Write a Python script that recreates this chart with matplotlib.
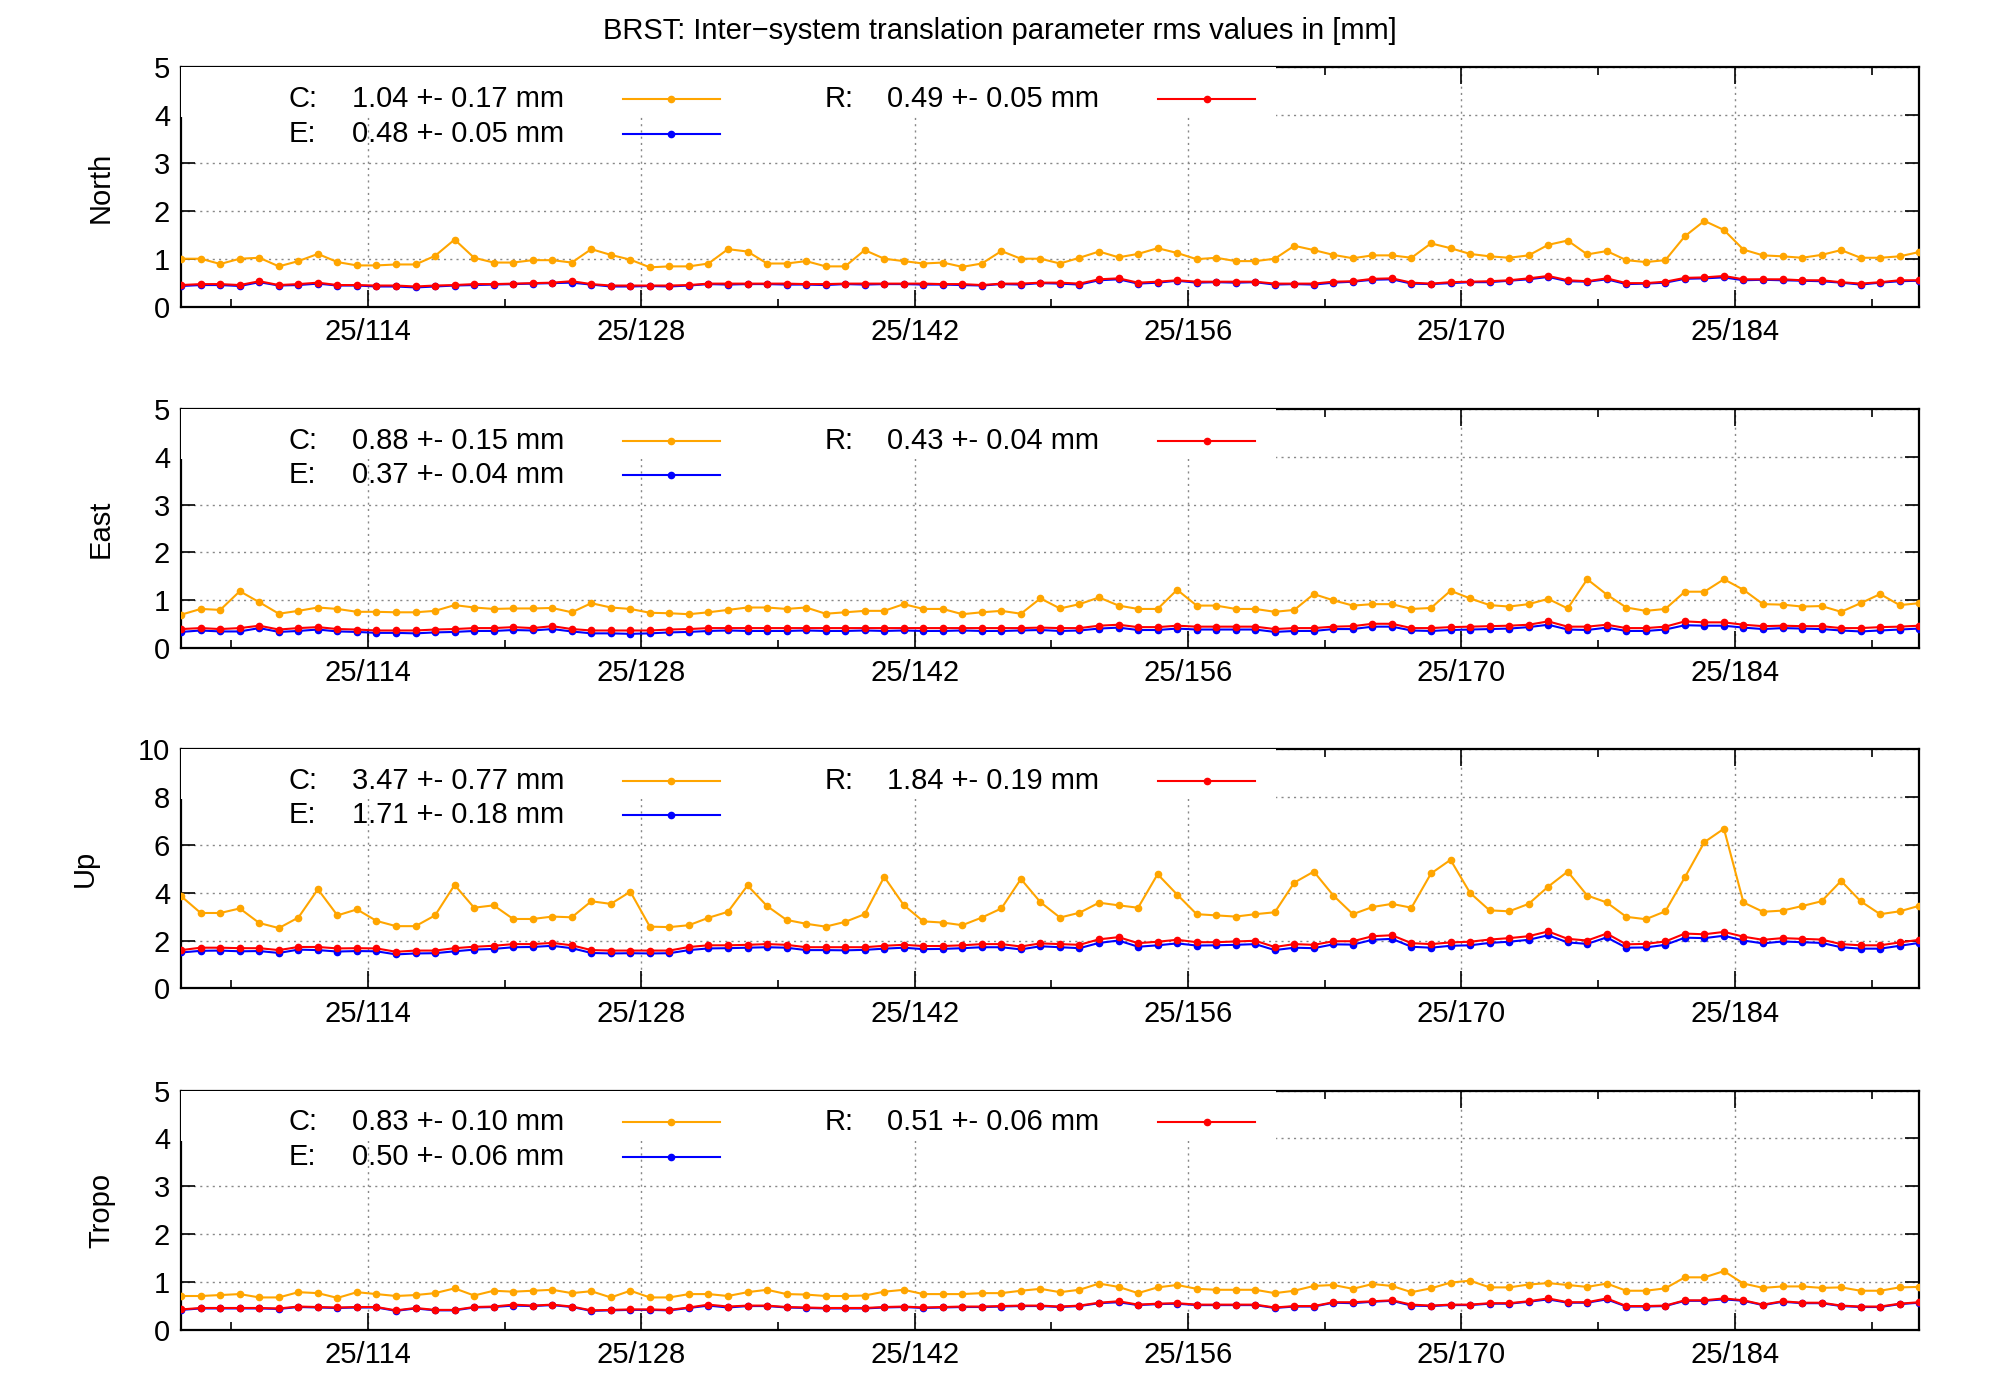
"""BRST inter-system translation parameter rms values (gnuplot-style, 4 panels)."""
import numpy as np
import matplotlib
matplotlib.use('Agg')
import matplotlib.pyplot as plt
from matplotlib.patches import Rectangle

plt.rcParams.update({
    'font.family': 'Liberation Sans',
    'font.size': 21,
    'axes.linewidth': 1.6,
    'xtick.direction': 'in',
    'ytick.direction': 'in',
})

TITLE = 'BRST: Inter\u2212system translation parameter rms values in [mm]'
DAY0 = 104.44          # day-of-year of first sample
X_TICKS = [114, 128, 142, 156, 170, 184]
X_MINOR = [107, 121, 135, 149, 163, 177, 191]

north_c = [1.0, 1.0, 0.89, 1.0, 1.02, 0.84, 0.95, 1.1, 0.93, 0.86, 0.86, 0.88, 0.88, 1.06, 1.4, 1.02,
           0.92, 0.92, 0.97, 0.97, 0.92, 1.2, 1.08, 0.98, 0.82, 0.84, 0.84, 0.9, 1.2, 1.15, 0.9, 0.9,
           0.95, 0.84, 0.84, 1.18, 1.0, 0.95, 0.9, 0.92, 0.83, 0.9, 1.16, 1.0, 1.0, 0.9,
           1.02, 1.15, 1.03, 1.1, 1.22, 1.12, 0.99, 1.02, 0.95, 0.95, 1.0, 1.27, 1.18, 1.08, 1.01,
           1.07, 1.07, 1.02, 1.32, 1.22, 1.1, 1.05, 1.02, 1.07, 1.29, 1.38, 1.09, 1.16, 0.97, 0.93,
           0.97, 1.47, 1.79, 1.6, 1.19, 1.07, 1.05, 1.02, 1.08, 1.18, 1.02, 1.02, 1.05, 1.14]
north_r = [0.45, 0.47, 0.47, 0.45, 0.53, 0.45, 0.47, 0.5, 0.45, 0.45, 0.44, 0.44, 0.42, 0.44, 0.45, 0.47,
           0.47, 0.48, 0.49, 0.5, 0.53, 0.47, 0.44, 0.44, 0.44, 0.44, 0.45, 0.48, 0.48, 0.48, 0.48, 0.48,
           0.47, 0.47, 0.48, 0.48, 0.48, 0.48, 0.48, 0.47, 0.47, 0.45, 0.48, 0.48, 0.5, 0.5,
           0.48, 0.57, 0.59, 0.5, 0.52, 0.55, 0.52, 0.52, 0.52, 0.52, 0.48, 0.48, 0.48, 0.52, 0.53,
           0.58, 0.59, 0.5, 0.48, 0.51, 0.52, 0.53, 0.55, 0.59, 0.64, 0.55, 0.53, 0.59, 0.49, 0.49,
           0.52, 0.6, 0.61, 0.64, 0.57, 0.57, 0.57, 0.55, 0.55, 0.51, 0.48, 0.51, 0.55, 0.55]
north_e = [0.43, 0.45, 0.45, 0.43, 0.51, 0.44, 0.45, 0.48, 0.44, 0.44, 0.42, 0.42, 0.4, 0.42, 0.44, 0.45,
           0.46, 0.47, 0.48, 0.49, 0.5, 0.46, 0.42, 0.42, 0.43, 0.42, 0.44, 0.47, 0.46, 0.47, 0.47, 0.46,
           0.46, 0.45, 0.47, 0.46, 0.47, 0.47, 0.46, 0.46, 0.45, 0.44, 0.47, 0.46, 0.49, 0.48,
           0.46, 0.55, 0.57, 0.48, 0.5, 0.54, 0.5, 0.51, 0.5, 0.51, 0.46, 0.47, 0.46, 0.5, 0.52,
           0.56, 0.57, 0.48, 0.47, 0.49, 0.51, 0.51, 0.54, 0.57, 0.62, 0.53, 0.52, 0.57, 0.47, 0.48,
           0.5, 0.58, 0.59, 0.61, 0.55, 0.56, 0.55, 0.54, 0.53, 0.5, 0.46, 0.5, 0.53, 0.54]

east_c = [0.7, 0.82, 0.8, 1.19, 0.96, 0.72, 0.78, 0.85, 0.82, 0.76, 0.76, 0.75, 0.75, 0.78, 0.9, 0.85,
          0.82, 0.83, 0.83, 0.84, 0.75, 0.94, 0.85, 0.82, 0.74, 0.73, 0.71, 0.75, 0.8, 0.85, 0.85, 0.82,
          0.85, 0.72, 0.75, 0.78, 0.78, 0.92, 0.82, 0.82, 0.71, 0.75, 0.78, 0.72, 1.04, 0.83,
          0.92, 1.06, 0.89, 0.82, 0.82, 1.22, 0.89, 0.89, 0.82, 0.82, 0.76, 0.8, 1.13, 1.0, 0.89,
          0.92, 0.92, 0.82, 0.84, 1.2, 1.04, 0.9, 0.87, 0.92, 1.03, 0.83, 1.44, 1.12, 0.85, 0.78,
          0.82, 1.18, 1.18, 1.44, 1.22, 0.92, 0.91, 0.87, 0.88, 0.76, 0.94, 1.13, 0.9, 0.94]
east_r = [0.4, 0.42, 0.4, 0.42, 0.47, 0.39, 0.42, 0.44, 0.4, 0.39, 0.37, 0.37, 0.37, 0.39, 0.4, 0.42,
          0.42, 0.44, 0.42, 0.46, 0.4, 0.37, 0.37, 0.37, 0.37, 0.39, 0.4, 0.42, 0.42, 0.42, 0.42, 0.42,
          0.42, 0.42, 0.42, 0.42, 0.42, 0.42, 0.42, 0.42, 0.42, 0.42, 0.42, 0.42, 0.43, 0.42,
          0.42, 0.47, 0.49, 0.44, 0.44, 0.47, 0.45, 0.45, 0.45, 0.45, 0.4, 0.42, 0.42, 0.45, 0.46,
          0.51, 0.51, 0.42, 0.42, 0.44, 0.45, 0.46, 0.47, 0.49, 0.56, 0.45, 0.45, 0.49, 0.42, 0.42,
          0.45, 0.56, 0.54, 0.54, 0.49, 0.46, 0.47, 0.46, 0.46, 0.42, 0.42, 0.44, 0.45, 0.47]
east_e = [0.34, 0.37, 0.35, 0.35, 0.42, 0.34, 0.36, 0.39, 0.35, 0.34, 0.32, 0.32, 0.31, 0.33, 0.34, 0.36,
          0.36, 0.38, 0.37, 0.4, 0.35, 0.31, 0.31, 0.3, 0.31, 0.33, 0.34, 0.36, 0.37, 0.36, 0.36, 0.36,
          0.37, 0.36, 0.36, 0.37, 0.36, 0.37, 0.36, 0.36, 0.37, 0.36, 0.36, 0.37, 0.38, 0.36,
          0.37, 0.41, 0.43, 0.38, 0.38, 0.41, 0.39, 0.39, 0.39, 0.39, 0.34, 0.36, 0.36, 0.4, 0.4,
          0.45, 0.45, 0.37, 0.36, 0.38, 0.39, 0.4, 0.41, 0.44, 0.49, 0.39, 0.38, 0.43, 0.36, 0.36,
          0.39, 0.48, 0.47, 0.47, 0.43, 0.4, 0.42, 0.41, 0.4, 0.37, 0.35, 0.37, 0.39, 0.41]

up_c = [3.85, 3.15, 3.15, 3.34, 2.73, 2.52, 2.96, 4.14, 3.05, 3.3, 2.82, 2.6, 2.6, 3.05, 4.32, 3.37,
        3.47, 2.9, 2.9, 3.0, 2.97, 3.64, 3.53, 4.04, 2.58, 2.56, 2.64, 2.95, 3.2, 4.3, 3.44, 2.86,
        2.7, 2.58, 2.78, 3.1, 4.66, 3.48, 2.8, 2.75, 2.64, 2.96, 3.34, 4.57, 3.6, 2.96,
        3.16, 3.58, 3.47, 3.37, 4.77, 3.92, 3.1, 3.05, 3.0, 3.1, 3.18, 4.42, 4.88, 3.88, 3.1,
        3.4, 3.53, 3.37, 4.8, 5.37, 3.99, 3.26, 3.22, 3.53, 4.25, 4.88, 3.88, 3.59, 2.99, 2.89,
        3.22, 4.64, 6.11, 6.67, 3.59, 3.2, 3.25, 3.44, 3.64, 4.49, 3.64, 3.1, 3.22, 3.45]
up_r = [1.6, 1.7, 1.7, 1.68, 1.68, 1.6, 1.73, 1.73, 1.67, 1.68, 1.67, 1.53, 1.58, 1.58, 1.68, 1.74,
        1.78, 1.85, 1.85, 1.9, 1.8, 1.6, 1.58, 1.58, 1.58, 1.58, 1.73, 1.8, 1.8, 1.82, 1.85, 1.82,
        1.72, 1.72, 1.72, 1.72, 1.78, 1.82, 1.77, 1.77, 1.8, 1.85, 1.85, 1.75, 1.88, 1.85,
        1.82, 2.05, 2.14, 1.89, 1.95, 2.03, 1.93, 1.93, 1.96, 1.99, 1.73, 1.85, 1.82, 1.97, 1.97,
        2.18, 2.22, 1.89, 1.85, 1.92, 1.95, 2.04, 2.1, 2.18, 2.38, 2.07, 2.0, 2.29, 1.84, 1.86,
        1.96, 2.29, 2.26, 2.36, 2.16, 2.03, 2.1, 2.07, 2.04, 1.85, 1.8, 1.8, 1.92, 2.03]
up_e = [1.5, 1.57, 1.58, 1.55, 1.56, 1.48, 1.62, 1.6, 1.54, 1.56, 1.55, 1.42, 1.46, 1.47, 1.55, 1.62,
        1.65, 1.72, 1.73, 1.78, 1.68, 1.48, 1.46, 1.47, 1.46, 1.47, 1.6, 1.67, 1.68, 1.7, 1.72, 1.7,
        1.6, 1.6, 1.59, 1.61, 1.66, 1.7, 1.64, 1.65, 1.68, 1.72, 1.72, 1.63, 1.76, 1.72,
        1.68, 1.9, 2.0, 1.74, 1.8, 1.88, 1.79, 1.8, 1.82, 1.85, 1.6, 1.7, 1.68, 1.84, 1.83,
        2.03, 2.07, 1.74, 1.7, 1.78, 1.8, 1.9, 1.95, 2.03, 2.22, 1.92, 1.86, 2.13, 1.7, 1.71,
        1.82, 2.12, 2.1, 2.2, 2.0, 1.88, 1.96, 1.93, 1.9, 1.72, 1.66, 1.66, 1.78, 1.9]

tropo_c = [0.71, 0.71, 0.73, 0.75, 0.68, 0.68, 0.79, 0.77, 0.67, 0.79, 0.75, 0.71, 0.73, 0.77, 0.87, 0.72,
           0.82, 0.8, 0.82, 0.84, 0.77, 0.81, 0.68, 0.82, 0.68, 0.68, 0.75, 0.75, 0.71, 0.79, 0.84, 0.75,
           0.74, 0.71, 0.71, 0.72, 0.8, 0.84, 0.75, 0.75, 0.75, 0.77, 0.77, 0.82, 0.86, 0.79,
           0.84, 0.97, 0.9, 0.77, 0.89, 0.94, 0.86, 0.84, 0.84, 0.84, 0.77, 0.82, 0.92, 0.94, 0.86,
           0.96, 0.92, 0.79, 0.87, 0.99, 1.03, 0.89, 0.89, 0.95, 0.98, 0.94, 0.9, 0.97, 0.82, 0.82,
           0.87, 1.1, 1.1, 1.23, 0.97, 0.88, 0.91, 0.91, 0.88, 0.89, 0.82, 0.82, 0.89, 0.9]
tropo_r = [0.43, 0.46, 0.46, 0.46, 0.46, 0.45, 0.49, 0.48, 0.47, 0.48, 0.48, 0.41, 0.46, 0.42, 0.42, 0.48,
           0.49, 0.53, 0.51, 0.53, 0.49, 0.41, 0.42, 0.43, 0.43, 0.42, 0.47, 0.53, 0.49, 0.51, 0.51, 0.48,
           0.47, 0.46, 0.46, 0.46, 0.48, 0.49, 0.47, 0.48, 0.49, 0.49, 0.5, 0.51, 0.51, 0.49,
           0.51, 0.57, 0.6, 0.53, 0.55, 0.56, 0.53, 0.53, 0.53, 0.53, 0.47, 0.5, 0.5, 0.58, 0.58,
           0.6, 0.62, 0.53, 0.51, 0.53, 0.53, 0.56, 0.56, 0.6, 0.66, 0.58, 0.58, 0.66, 0.5, 0.5,
           0.51, 0.62, 0.62, 0.66, 0.62, 0.53, 0.6, 0.57, 0.57, 0.51, 0.49, 0.49, 0.55, 0.58]
tropo_e = [0.42, 0.45, 0.45, 0.45, 0.45, 0.44, 0.48, 0.47, 0.46, 0.47, 0.47, 0.4, 0.45, 0.41, 0.41, 0.47,
           0.48, 0.51, 0.5, 0.52, 0.48, 0.4, 0.41, 0.42, 0.42, 0.41, 0.46, 0.51, 0.47, 0.5, 0.5, 0.47,
           0.46, 0.45, 0.45, 0.45, 0.47, 0.48, 0.46, 0.47, 0.48, 0.48, 0.49, 0.5, 0.5, 0.48,
           0.5, 0.56, 0.58, 0.52, 0.54, 0.55, 0.52, 0.52, 0.52, 0.52, 0.46, 0.49, 0.49, 0.57, 0.56,
           0.59, 0.61, 0.51, 0.5, 0.52, 0.52, 0.55, 0.55, 0.59, 0.64, 0.57, 0.57, 0.64, 0.49, 0.49,
           0.5, 0.61, 0.61, 0.64, 0.61, 0.52, 0.59, 0.56, 0.56, 0.5, 0.48, 0.48, 0.54, 0.57]

panels = [
    ('North', north_c, north_e, north_r, 5, ['1.04 +- 0.17', '0.48 +- 0.05', '0.49 +- 0.05']),
    ('East', east_c, east_e, east_r, 5, ['0.88 +- 0.15', '0.37 +- 0.04', '0.43 +- 0.04']),
    ('Up', up_c, up_e, up_r, 10, ['3.47 +- 0.77', '1.71 +- 0.18', '1.84 +- 0.19']),
    ('Tropo', tropo_c, tropo_e, tropo_r, 5, ['0.83 +- 0.10', '0.50 +- 0.06', '0.51 +- 0.06']),
]
colors = {'C': '#ffa500', 'E': '#0000ff', 'R': '#ff0000'}

fig = plt.figure(figsize=(20, 14), dpi=100)
fig.text(0.5, 0.978, TITLE, ha='center', va='center', fontsize=21)

left, width, height = 0.0906, 0.869, 0.171
bottoms = [0.781, 0.537, 0.294, 0.05]

for (name, c, e, r, ymax, stats), bot in zip(panels, bottoms):
    ax = fig.add_axes([left, bot, width, height])
    for key, vals in (('C', c), ('E', e), ('R', r)):
        x = DAY0 + np.arange(len(vals))
        ax.plot(x, vals, '-o', color=colors[key], lw=1.5, ms=4.5, zorder=3)
    ax.set_xlim(DAY0, DAY0 + 89.0)
    ax.set_ylim(0, ymax)
    step = 2 if ymax == 10 else 1
    ax.set_yticks(np.arange(0, ymax + 1, step))
    ax.set_xticks(X_TICKS)
    ax.set_xticks(X_MINOR, minor=True)
    ax.set_xticklabels([f'25/{d}' for d in X_TICKS])
    ax.tick_params(which='both', top=True, right=True, labelsize=21)
    ax.tick_params(which='major', length=12, width=1.2, pad=8)
    ax.tick_params(which='minor', length=6, width=1.2)
    ax.tick_params(axis='y', length=10)
    ax.grid(True, which='major', color='#888888', ls=(0, (1.5, 3)), lw=1.0, zorder=0)
    ax.set_ylabel(name, fontsize=21, labelpad=28)

    # gnuplot-style key with opaque background
    ax.add_patch(Rectangle((0, 0.79), 0.63, 0.21, transform=ax.transAxes,
                           facecolor='white', edgecolor='none', zorder=4))
    rows = [('C', stats[0], 0.062, 0.867), ('E', stats[1], 0.062, 0.723), ('R', stats[2], 0.37, 0.867)]
    for key, s, tx, ty in rows:
        ax.text(tx, ty, f'{key}:', transform=ax.transAxes, va='center', fontsize=21, zorder=5)
        ax.text(tx + 0.036, ty, f'{s} mm', transform=ax.transAxes, va='center', fontsize=21, zorder=5)
        lx0 = tx + 0.192
        ax.plot([lx0, lx0 + 0.056], [ty, ty], '-', color=colors[key], lw=1.5,
                transform=ax.transAxes, zorder=5, clip_on=False)
        ax.plot([lx0 + 0.028], [ty], 'o', color=colors[key], ms=4.5,
                transform=ax.transAxes, zorder=5, clip_on=False)

fig.savefig('out.png', dpi=100)
